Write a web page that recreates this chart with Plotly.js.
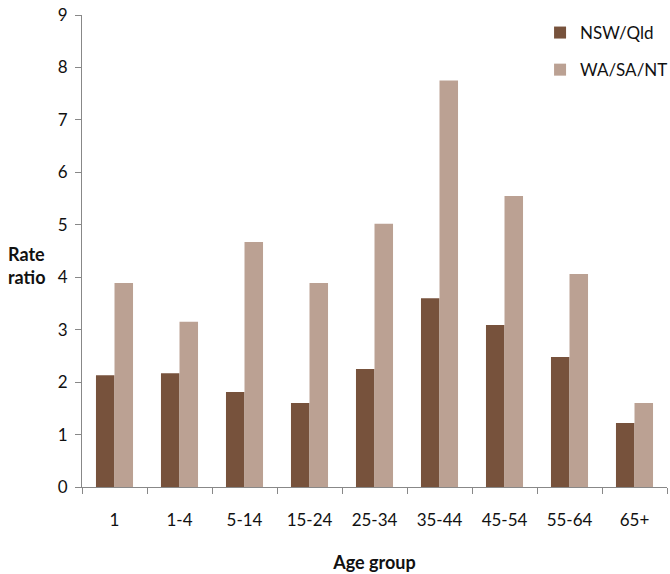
<!DOCTYPE html>
<html>
<head>
<meta charset="utf-8">
<script src="https://cdn.plot.ly/plotly-3.0.1.min.js"></script>
<style>html,body{margin:0;padding:0;background:#fff;}#chart{width:670px;height:574px;}</style>
</head>
<body>
<div id="chart"></div>
<script>
const categories = ["1", "1-4", "5-14", "15-24", "25-34", "35-44", "45-54", "55-64", "65+"];
const nswQld = [2.13, 2.17, 1.81, 1.60, 2.25, 3.60, 3.09, 2.48, 1.22];
const waSaNt = [3.89, 3.15, 4.67, 3.89, 5.02, 7.75, 5.55, 4.06, 1.60];
const seriesNames = ["NSW/Qld", "WA/SA/NT"];

const font = "Lato, 'Open Sans', sans-serif";

const data = [
  {type: "bar", x: categories, y: nswQld, name: seriesNames[0], legendgroup: "a",
   marker: {color: "#77523C"}},
  {type: "bar", x: categories, y: waSaNt, name: seriesNames[1], legendgroup: "b",
   marker: {color: "#BBA193"}}
];

const layout = {
  width: 670, height: 574,
  margin: {l: 82, r: 3, t: 15, b: 87, autoexpand: false},
  paper_bgcolor: "#fff", plot_bgcolor: "#fff",
  font: {family: font, size: 17, color: "#111"},
  barmode: "group", bargap: 0.43, bargroupgap: 0,
  showlegend: true,
  legend: {x: 0.783, y: 1.0, xanchor: "left", yanchor: "top", font: {size: 17, family: font},
           tracegroupgap: 12, bgcolor: "rgba(0,0,0,0)"},
  xaxis: {
    type: "category", showline: true, linecolor: "#888", linewidth: 1,
    ticks: "outside", tickson: "boundaries", ticklen: 6, tickcolor: "#888",
    showgrid: false, tickfont: {size: 17, family: font}, ticklabelstandoff: 18,
    title: {text: "<b>Age group</b>", font: {size: 18, family: font}, standoff: 26}
  },
  yaxis: {
    range: [0, 9], dtick: 1, showline: true, linecolor: "#888", linewidth: 1,
    ticks: "outside", ticklen: 6, tickcolor: "#888", showgrid: false, zeroline: false,
    tickfont: {size: 17, family: font}, ticklabelstandoff: 4
  },
  annotations: [
    {text: "<b>Rate<br>ratio</b>", xref: "paper", yref: "paper", x: -0.13, y: 0.47,
     xanchor: "left", yanchor: "middle", align: "left", showarrow: false,
     font: {size: 18, family: font, color: "#111"}}
  ]
};

Plotly.newPlot("chart", data, layout, {displayModeBar: false});
</script>
</body>
</html>
